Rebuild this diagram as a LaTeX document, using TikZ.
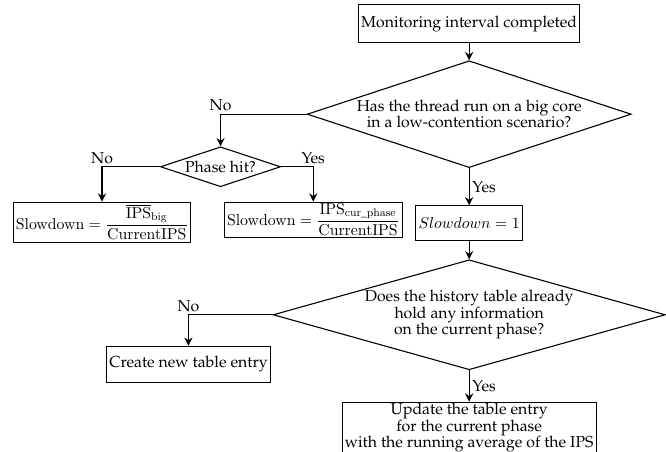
\RequirePackage{fix-cm}
\documentclass[tikz,border=0pt]{standalone}
\usepackage[T1]{fontenc}
\usepackage{palatino}
\usepackage{amsmath}
\usetikzlibrary{shapes.geometric, arrows.meta, positioning}

\begin{document}
\begin{tikzpicture}[
    >={Stealth[length=6pt,width=6pt,inset=2pt]},
    every node/.style={font=\fontsize{11.5}{12}\selectfont},
    procbox/.style={rectangle, draw, thick, inner xsep=2pt, inner ysep=1pt,
        align=center},
    decision/.style={diamond, draw, thick, inner sep=0pt, align=center},
    arrow/.style={->, thick},
    answer/.style={inner sep=2pt},
]
\useasboundingbox (0,0) rectangle (17.02,-11.55);

% === FIRST CHECK ===
\node[procbox, minimum height=0.97cm] (start) at (11.99,-0.61) {Monitoring interval completed};
\node[decision, aspect=3, minimum width=8.28cm, minimum height=2.73cm, below=0.43cm of start] (bigcore) {Has the thread run on a big core\\in a low-contention scenario?};

% === PHASE BRANCH ===
\node[decision, aspect=3, minimum width=3.07cm, minimum height=1.02cm, below=0.82cm of bigcore.west, xshift=-2.2cm] (phasehit) {Phase hit?};
\node[procbox, minimum height=1.02cm, below=0.89cm of phasehit.west, xshift=-1.48cm] (sdbig) {$\mathrm{Slowdown} = \dfrac{\overline{\mathrm{IPS}}_{\mathrm{big}}}{\mathrm{CurrentIPS}}$};
\node[procbox, minimum height=0.89cm, below=0.89cm of phasehit.east, xshift=0.82cm] (sdcur) {$\mathrm{Slowdown} = \dfrac{\mathrm{IPS}_{\mathrm{cur\_phase}}}{\mathrm{CurrentIPS}}$};

% === BIG CORE BRANCH ===
\node[procbox, minimum height=0.89cm, below=0.95cm of bigcore] (sdone) {$Slowdown = 1$};

% === HISTORY TABLE ===
\node[decision, aspect=3.5, minimum width=10.02cm, minimum height=2.81cm, below=0.46cm of sdone] (history) {Does the history table already\\hold any information\\on the current phase?};
\node[procbox, minimum height=0.92cm, below=0.79cm of history.west, xshift=-2.15cm] (newentry) {Create new table entry};
\node[procbox, below=0.8cm of history] (update) {Update the table entry\\for the current phase\\with the running average of the IPS};

% === ARROWS ===
\draw[arrow] (start) -- (bigcore);
\draw[arrow] (bigcore.west) -| node[answer, pos=0.5, above] {No} (phasehit.north);
\draw[arrow] (bigcore.south) -- node[answer, right] {Yes} (sdone.north);
\draw[arrow] (phasehit.west) -| node[answer, pos=0.5, above] {No} (sdbig.north);
\draw[arrow] (phasehit.east) -| node[answer, pos=0.5, above] {Yes} (sdcur.north);
\draw[arrow] (sdone) -- (history);
\draw[arrow] (history.west) -| node[answer, pos=0.5, above] {No} (newentry.north);
\draw[arrow] (history.south) -- node[answer, right] {Yes} (update.north);

\end{tikzpicture}
\end{document}
